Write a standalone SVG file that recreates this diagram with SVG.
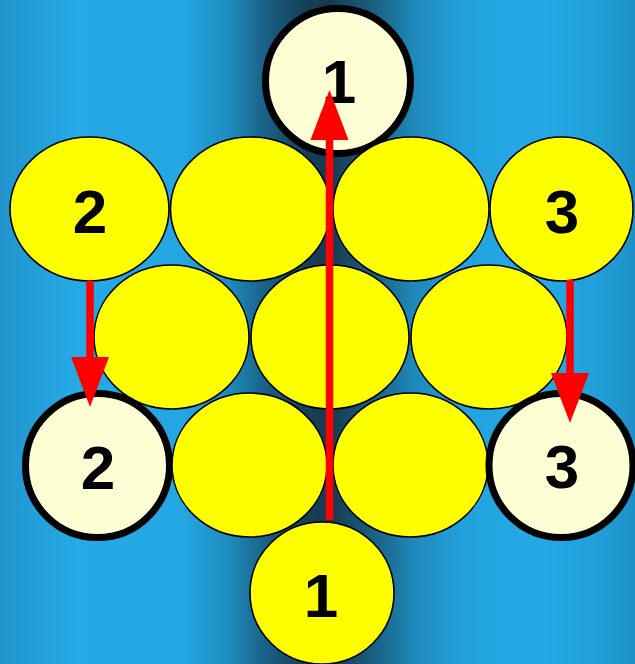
<svg xmlns="http://www.w3.org/2000/svg" width="635" height="664" viewBox="0 0 635 664">
<defs>
<linearGradient id="bg" x1="0" y1="0" x2="635" y2="0" gradientUnits="userSpaceOnUse">
<stop offset="0" stop-color="#2194cc"/>
<stop offset="0.12" stop-color="#25aae6"/>
<stop offset="0.29" stop-color="#23a6e2"/>
<stop offset="0.36" stop-color="#1e8cbe"/>
<stop offset="0.42" stop-color="#1a5f85"/>
<stop offset="0.48" stop-color="#163f58"/>
<stop offset="0.52" stop-color="#163b50"/>
<stop offset="0.58" stop-color="#1a5b7c"/>
<stop offset="0.65" stop-color="#1e88b8"/>
<stop offset="0.73" stop-color="#22a2dc"/>
<stop offset="0.84" stop-color="#25a9e6"/>
<stop offset="0.94" stop-color="#21a0d8"/>
<stop offset="1" stop-color="#1e90c8"/>
</linearGradient>
<marker id="ah" markerUnits="userSpaceOnUse" markerWidth="52" markerHeight="40" refX="0" refY="19" orient="auto" overflow="visible">
<path d="M0,0 L50,19 L0,38 Z" fill="#ff0000"/>
</marker>
</defs>
<style>
.y{fill:#ffff00;stroke:#000;stroke-width:1.6}
.c{fill:#ffffd5;stroke:#000;stroke-width:7}
.t{font-family:"Liberation Sans",Arial,sans-serif;font-weight:bold;font-size:62px;fill:#000;text-anchor:middle}
.a{stroke:#ff0000;stroke-width:7.5;fill:none}
</style>
<rect width="635" height="664" fill="url(#bg)"/>
<g id="n-top1"><circle class="c" cx="338" cy="81" r="72.5"/><text class="t" x="339" y="103">1</text></g>
<g id="n-r1a"><ellipse class="y" cx="89.5" cy="209" rx="79.5" ry="72"/><text class="t" x="90" y="233">2</text></g>
<g id="n-r1b"><ellipse class="y" cx="250.5" cy="209" rx="80" ry="72"/></g>
<g id="n-r1c"><ellipse class="y" cx="411" cy="209" rx="78" ry="72"/></g>
<g id="n-r1d"><ellipse class="y" cx="561.5" cy="209" rx="71.5" ry="72"/><text class="t" x="562" y="233">3</text></g>
<g id="n-r2a"><ellipse class="y" cx="171.5" cy="337" rx="77.5" ry="72"/></g>
<g id="n-r2b"><ellipse class="y" cx="330" cy="337" rx="79" ry="72"/></g>
<g id="n-r2c"><ellipse class="y" cx="489" cy="337" rx="78" ry="72"/></g>
<g id="n-bot2"><circle class="c" cx="97.5" cy="465.5" r="72"/><text class="t" x="98" y="489">2</text></g>
<g id="n-r3b"><ellipse class="y" cx="249.5" cy="465" rx="77.5" ry="72"/></g>
<g id="n-r3c"><ellipse class="y" cx="410.5" cy="465" rx="77.5" ry="72"/></g>
<g id="n-bot3"><circle class="c" cx="561" cy="465.5" r="72"/><text class="t" x="562" y="488">3</text></g>
<g id="n-bot1"><ellipse class="y" cx="322" cy="593" rx="72" ry="71"/><text class="t" x="321" y="617">1</text></g>
<g id="connectors">
<line class="a" x1="329.5" y1="520" x2="329.5" y2="140" marker-end="url(#ah)"/>
<line class="a" x1="90" y1="281" x2="90" y2="357" marker-end="url(#ah)"/>
<line class="a" x1="570" y1="280" x2="570" y2="373" marker-end="url(#ah)"/>
</g>
</svg>
